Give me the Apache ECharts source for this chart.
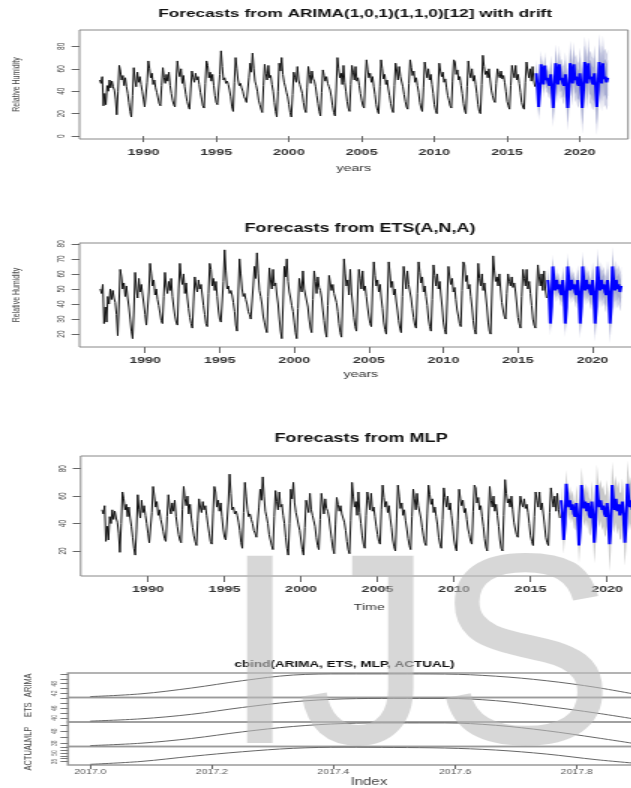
<!DOCTYPE html>
<html><head><meta charset="utf-8">
<script src="https://cdn.jsdelivr.net/npm/echarts@6/dist/echarts.min.js"></script>
<style>
html,body{margin:0;padding:0;width:631px;height:788px;overflow:hidden;background:#fff;}
#c{width:460px;height:788px;transform:scaleX(1.5);transform-origin:0 0;}
</style></head><body><div id="c"></div>
<script>
// ---------------- DATA ----------------
const histStart = 1987;      // monthly series starts Jan 1987
const fcStart = 2017;        // forecasts start Jan 2017
const actualHist = [
50,47,53,27,38,28,45,40,50,43,49,44,
41,33,19,40,63,58,50,54,45,52,44,38,
30,22,17,36,61,50,44,57,48,53,46,40,
33,26,25,48,67,60,52,56,46,50,43,39,
34,29,27,45,61,52,47,55,49,57,45,38,
32,28,26,50,67,58,53,60,47,54,44,37,
31,27,24,42,58,52,48,56,50,53,46,39,
33,27,25,47,67,63,52,57,49,55,45,36,
30,28,27,55,76,62,50,52,47,49,46,41,
35,26,22,48,70,60,50,45,47,43,40,35,
33,30,29,52,65,57,74,60,49,45,40,32,
28,24,21,45,64,56,50,63,52,54,46,40,
30,22,17,40,65,58,70,55,48,44,39,35,
28,21,17,37,57,52,48,62,50,46,42,38,
30,24,21,43,62,55,47,58,51,49,44,36,
29,22,18,39,59,54,49,53,47,44,41,35,
27,21,18,42,70,60,52,56,46,63,48,40,
31,25,22,46,63,57,50,62,49,52,45,38,
32,27,25,50,68,59,52,56,48,53,44,37,
28,23,20,44,68,60,51,55,46,50,42,36,
29,24,21,45,65,58,50,62,53,54,44,37,
31,26,24,47,68,61,54,58,48,52,45,39,
30,25,22,43,66,59,52,60,50,55,46,38,
28,23,20,42,65,58,53,57,48,51,43,36,
32,27,25,49,68,66,55,59,50,53,45,38,
29,23,20,44,67,57,52,60,49,54,46,38,
28,22,20,46,72,62,55,58,52,60,50,41,
36,32,30,47,60,55,52,58,51,54,48,40,
31,27,24,45,63,57,52,63,50,55,47,39,
30,26,24,48,66,58,52,60,49,62,50,44
];
// ARIMA forecast 2017-2021
const arimaMean = [
56,45,26,40,64,55,46,63,50,52,47,45,
55,44,25,40,65,55,46,64,50,52,47,45,
55,44,25,41,65,56,47,64,50,53,47,45,
56,45,25,41,66,56,47,65,51,53,48,46,
56,45,26,41,66,56,47,65,51,53,48,52];
const arimaHi95 = [
68,57,38,52,76,67,58,75,62,64,59,57,
72,61,42,57,82,72,63,81,67,69,64,62,
75,64,45,61,85,76,67,84,70,73,67,65,
79,68,48,64,89,79,70,88,74,76,71,69,
81,70,51,66,91,81,72,90,76,78,73,77];
const arimaLo95 = [
44,33,14,28,52,43,34,51,38,40,35,33,
38,27,8,23,48,38,29,47,33,35,30,28,
35,24,5,21,45,36,27,44,30,33,27,25,
33,22,2,18,43,33,24,42,28,30,25,23,
31,20,1,16,41,31,22,40,26,28,23,27];
const arimaHi80 = [
64,53,34,48,72,63,54,71,58,60,55,53,
66,55,36,51,76,66,57,75,61,63,58,56,
68,57,38,54,78,69,60,77,63,66,60,58,
71,60,40,56,81,71,62,80,66,68,63,61,
72,61,42,57,82,72,63,81,67,69,64,68];
const arimaLo80 = [
48,37,18,32,56,47,38,55,42,44,39,37,
44,33,14,29,54,44,35,53,39,41,36,34,
42,31,12,28,52,43,34,51,37,40,34,32,
41,30,10,26,51,41,32,50,36,38,33,31,
40,29,10,25,50,40,31,49,35,37,32,36];
// ETS forecast 2017-2021
const etsMean = [
56,48,27,38,65,55,49,56,50,53,48,46,
56,48,27,38,65,55,49,56,50,53,48,46,
56,48,27,38,65,55,49,56,50,53,48,46,
56,48,27,38,65,55,49,56,50,53,48,46,
56,48,27,38,65,55,49,56,50,53,48,52];
const etsHi95 = [
64,56,35,46,73,63,57,64,58,61,56,54,
65,57,36,47,74,64,58,65,59,62,57,55,
66,58,37,48,75,65,59,66,60,63,58,56,
68,60,39,50,77,67,61,68,62,65,60,58,
69,61,40,51,78,68,62,69,63,66,61,65];
const etsLo95 = [
48,40,19,30,57,47,41,48,42,45,40,38,
47,39,18,29,56,46,40,47,41,44,39,37,
46,38,17,28,55,45,39,46,40,43,38,36,
44,36,15,26,53,43,37,44,38,41,36,34,
43,35,14,25,52,42,36,43,37,40,35,39];
const etsHi80 = [
61,53,32,43,70,60,54,61,55,58,53,51,
62,54,33,44,71,61,55,62,56,59,54,52,
63,55,34,45,72,62,56,63,57,60,55,53,
64,56,35,46,73,63,57,64,58,61,56,54,
64,56,35,46,73,63,57,64,58,61,56,60];
const etsLo80 = [
51,43,22,33,60,50,44,51,45,48,43,41,
50,42,21,32,59,49,43,50,44,47,42,40,
49,41,20,31,58,48,42,49,43,46,41,39,
48,40,19,30,57,47,41,48,42,45,40,38,
48,40,19,30,57,47,41,48,42,45,40,44];
// MLP forecast 2017-2021
const mlpMean = [
57,47,28,40,69,58,52,57,50,54,47,45,
55,45,24,38,68,57,51,56,49,55,46,44,
56,46,26,39,68,58,52,57,50,53,47,45,
55,45,25,38,68,57,50,58,49,54,46,45,
56,46,26,40,69,58,52,57,50,55,47,52];
const mlpHi95 = [
67,57,38,50,79,68,62,67,60,64,57,55,
68,58,37,51,81,70,64,69,62,68,59,57,
71,61,41,54,83,73,67,72,65,68,62,60,
72,62,42,55,85,74,67,75,66,71,63,62,
73,63,43,57,86,75,69,74,67,72,64,69];
const mlpLo95 = [
47,37,18,30,59,48,42,47,40,44,37,35,
42,32,11,25,55,44,38,43,36,42,33,31,
41,31,11,24,53,43,37,42,35,38,32,30,
38,28,5,21,51,40,33,41,32,37,29,28,
39,29,9,23,52,41,35,40,33,38,30,35];
// cbind panel: monthly values of 2017
const cbindArima  = [40,41.7,45.3,49.8,53.3,54,54,53.9,52.6,49.8,45.6,40];
const cbindEts    = [38,39.4,42.2,46.4,49.9,51.7,52,52,50.6,47.1,42.9,38];
const cbindMlp    = [36,38,42,47.5,52,54.5,55,55,53,48.5,42.5,36];
const cbindActual = [30,35,44,52,58,60,59.5,58.5,55,48,38,30];
const cbindNames  = ['ARIMA','ETS','MLP','ACTUAL'];
// tick labels
const yearTicks = [1990,1995,2000,2005,2010,2015,2020];
const p1YTicks = [0,20,40,60,80];
const p2YTicks = [20,30,40,50,60,70,80];
const p3YTicks = [20,40,60,80];
const cbindXTicks = [2017.0,2017.2,2017.4,2017.6,2017.8];
const cbindYTicks = [[42,45,48,51,54],[40,43,46,49,52],[38,43,48,53],[35,40,45,50,55,60]];
const cbindYLabels = [[42,48],[40,46],[38,48],[35,50]];

// ---------------- BUILD ----------------
const FONT = '"Liberation Sans", Arial, sans-serif';
const monthly = (arr, start) => arr.map((v, i) => [start + i / 12, v]);
const pad = v => (v.max - v.min) * 0.04;
const padMin = v => v.min - pad(v), padMax = v => v.max + pad(v);

const grids = [], xAxes = [], yAxes = [], series = [];
function addPanel(g, yTicks, yName, xName, nameGap) {
  const idx = grids.length;
  grids.push(Object.assign({show: true, borderColor: '#888', borderWidth: 1, backgroundColor: 'transparent'}, g));
  xAxes.push({gridIndex: idx, type: 'value', min: padMin, max: padMax, splitLine: {show: false},
    axisLine: {show: false},
    axisTick: {customValues: yearTicks, length: 6, lineStyle: {color: '#666'}},
    axisLabel: {customValues: yearTicks, margin: 8, fontSize: 9.5, color: '#333', fontFamily: FONT, fontWeight: 'bold',
      formatter: v => String(v)},
    name: xName, nameLocation: 'middle', nameGap: nameGap,
    nameTextStyle: {fontSize: 9.5, color: '#333', fontFamily: FONT}});
  yAxes.push({gridIndex: idx, type: 'value', min: padMin, max: padMax, splitLine: {show: false},
    axisLine: {show: false},
    axisTick: {customValues: yTicks, length: 5.3, lineStyle: {color: '#666'}},
    axisLabel: {customValues: yTicks, rotate: 90, margin: 8, fontSize: 6.5, color: '#444', fontFamily: FONT},
    name: yName, nameLocation: 'middle', nameRotate: 90, nameGap: 38,
    nameTextStyle: {fontSize: 7, color: '#444', fontFamily: FONT}});
  return idx;
}
// prediction band drawn as one polygon through the library's coordinate system
function addBand(idx, lo, hi, color) {
  const data = lo.map((l, i) => [fcStart + i / 12, l, hi[i]]);
  series.push({type: 'custom', xAxisIndex: idx, yAxisIndex: idx, silent: true, z: 1, clip: true,
    encode: {x: 0, y: [1, 2]}, data: data,
    renderItem: (params, api) => {
      if (params.dataIndex !== 0) return null;
      const pts = [];
      for (let i = 0; i < data.length; i++) pts.push(api.coord([data[i][0], data[i][2]]));
      for (let i = data.length - 1; i >= 0; i--) pts.push(api.coord([data[i][0], data[i][1]]));
      return {type: 'polygon', shape: {points: pts}, style: {fill: color, stroke: null}};
    }});
}
function addLines(idx, mean) {
  series.push({type: 'line', xAxisIndex: idx, yAxisIndex: idx, symbol: 'none', silent: true,
    data: monthly(actualHist, histStart), lineStyle: {color: '#111', width: 1}, z: 3});
  series.push({type: 'line', xAxisIndex: idx, yAxisIndex: idx, symbol: 'none', silent: true,
    data: monthly(mean, fcStart), lineStyle: {color: '#0000ff', width: 2}, z: 4});
}

// Panel 1 ARIMA
let p = addPanel({left: 52.7, top: 30, width: 366, height: 109}, p1YTicks, 'Relative Humidity', 'years', 24);
addBand(p, arimaLo95, arimaHi95, '#d0d2e6');
addBand(p, arimaLo80, arimaHi80, '#a7acd2');
addLines(p, arimaMean);
// Panel 2 ETS
p = addPanel({left: 52.7, top: 243, width: 375.3, height: 104}, p2YTicks, 'Relative Humidity', 'years', 22);
addBand(p, etsLo95, etsHi95, '#d0d2e6');
addBand(p, etsLo80, etsHi80, '#a7acd2');
addLines(p, etsMean);
// Panel 3 MLP
p = addPanel({left: 53.8, top: 456, width: 384.7, height: 120}, p3YTicks, '', 'Time', 26);
addBand(p, mlpLo95, mlpHi95, '#c9c9c9');
addLines(p, mlpMean);

// Panel 4 cbind
const cbindSeries = [cbindArima, cbindEts, cbindMlp, cbindActual];
const subTop = 673, subH = 24.5;
cbindSeries.forEach((arr, k) => {
  const idx = grids.length;
  const last = k === cbindSeries.length - 1;
  grids.push({show: true, left: 45.3, top: subTop + k * subH, width: 401.3, height: subH,
    borderColor: '#9a9a9a', borderWidth: 1.5, backgroundColor: 'transparent'});
  xAxes.push({gridIndex: idx, type: 'value', min: padMin, max: padMax, splitLine: {show: false},
    axisLine: {show: false},
    axisTick: {show: last, customValues: cbindXTicks, length: 4, lineStyle: {color: '#666'}},
    axisLabel: {show: last, customValues: cbindXTicks, margin: 4, fontSize: 7, color: '#555', fontFamily: FONT,
      formatter: v => v.toFixed(1)},
    name: last ? 'Index' : '', nameLocation: 'middle', nameGap: 12,
    nameTextStyle: {fontSize: 10, color: '#444', fontFamily: FONT}});
  yAxes.push({gridIndex: idx, type: 'value', min: padMin, max: padMax, splitLine: {show: false},
    axisLine: {show: false},
    axisTick: {customValues: cbindYTicks[k], length: 5, lineStyle: {color: '#777'}},
    axisLabel: {customValues: cbindYLabels[k], rotate: 90, margin: 6, fontSize: 5, color: '#666', fontFamily: FONT},
    name: cbindNames[k], nameLocation: 'middle', nameRotate: 90, nameGap: 22,
    nameTextStyle: {fontSize: 7.5, color: '#444', fontFamily: FONT}});
  series.push({type: 'line', xAxisIndex: idx, yAxisIndex: idx, symbol: 'none', silent: true, smooth: 0.35,
    data: monthly(arr, fcStart), lineStyle: {color: '#666', width: 1}, z: 3});
});

const titleStyle = (t, x, y, size) => ({type: 'text', x: x, y: y, silent: true, z: 50,
  style: {text: t, font: 'bold ' + size + 'px ' + FONT, fill: '#111', align: 'center', verticalAlign: 'middle'}});

const chart = echarts.init(document.getElementById('c'), null, {renderer: 'canvas'});
chart.setOption({
  animation: false,
  backgroundColor: '#fff',
  grid: grids, xAxis: xAxes, yAxis: yAxes, series: series,
  graphic: [
    titleStyle('Forecasts from ARIMA(1,0,1)(1,1,0)[12] with drift', 236.7, 14, 11.5),
    titleStyle('Forecasts from ETS(A,N,A)', 240, 229, 12),
    titleStyle('Forecasts from MLP', 240.7, 438.5, 12),
    titleStyle('cbind(ARIMA, ETS, MLP, ACTUAL)', 229.7, 665, 9),
    {type: 'text', x: 148, y: 668, scaleX: 1 / 1.5, silent: true, z: 100,
      style: {text: 'IJS', font: '272px ' + FONT, fill: '#bdbdbd', opacity: 0.6, align: 'left', verticalAlign: 'middle'}}
  ]
});
</script></body></html>
